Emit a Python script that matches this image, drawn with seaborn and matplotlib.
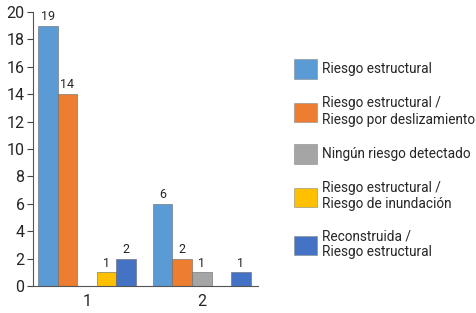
import matplotlib
matplotlib.use("Agg")
import matplotlib.pyplot as plt
import seaborn as sns
import pandas as pd
from matplotlib.patches import Patch

groups = ["1", "2"]
series = ["Riesgo estructural",
          "Riesgo estructural /\nRiesgo por deslizamiento",
          "Ningún riesgo detectado",
          "Riesgo estructural /\nRiesgo de inundación",
          "Reconstruida /\nRiesgo estructural"]
values_g1 = [19, 14, None, 1, 2]
values_g2 = [6, 2, 1, None, 1]
colors = ["#5B9BD5", "#ED7D31", "#A5A5A5", "#FFC000", "#4472C4"]
yticks = [0, 2, 4, 6, 8, 10, 12, 14, 16, 18, 20]

rows = []
for g, vals in zip(groups, [values_g1, values_g2]):
    for s, v in zip(series, vals):
        if v is not None:
            rows.append({"grupo": g, "serie": s, "valor": v})
df = pd.DataFrame(rows)

sns.set_style("white")
plt.rcParams['font.family'] = ['Roboto', 'DejaVu Sans']

fig = plt.figure(figsize=(4.77, 3.13), dpi=100)
ax = fig.add_axes([0.069, 0.086, 0.472, 0.876])
sns.barplot(data=df, x="grupo", y="valor", hue="serie", order=groups,
            hue_order=series, palette=colors, width=0.85, ax=ax,
            edgecolor="#666666", linewidth=0.4, legend=False, saturation=1)

for c in ax.containers:
    ax.bar_label(c, fmt="%d", padding=2, fontsize=9)

ax.set_ylim(0, 20)
ax.set_yticks(yticks)
ax.set_xlim(-0.47, 1.49)
ax.set_xlabel("")
ax.set_ylabel("")
ax.tick_params(axis="y", labelsize=11.5, length=4, direction="out", left=True, width=0.8, color="#444444", pad=2)
ax.tick_params(axis="x", labelsize=11.5, length=0, pad=6)
sns.despine(ax=ax, top=True, right=True)
for sp in ["left", "bottom"]:
    ax.spines[sp].set_color("#555555")
    ax.spines[sp].set_linewidth(0.8)

handles = [Patch(facecolor=c, edgecolor="#888888", linewidth=0.4) for c in colors]
fig.legend(handles, series, loc="upper left", bbox_to_anchor=(0.617, 0.81),
           frameon=False, fontsize=9.8, handlelength=1.7, handleheight=1.8,
           labelspacing=1.3, handletextpad=0.3, borderaxespad=0, borderpad=0)

fig.savefig("out.png", dpi=100)
